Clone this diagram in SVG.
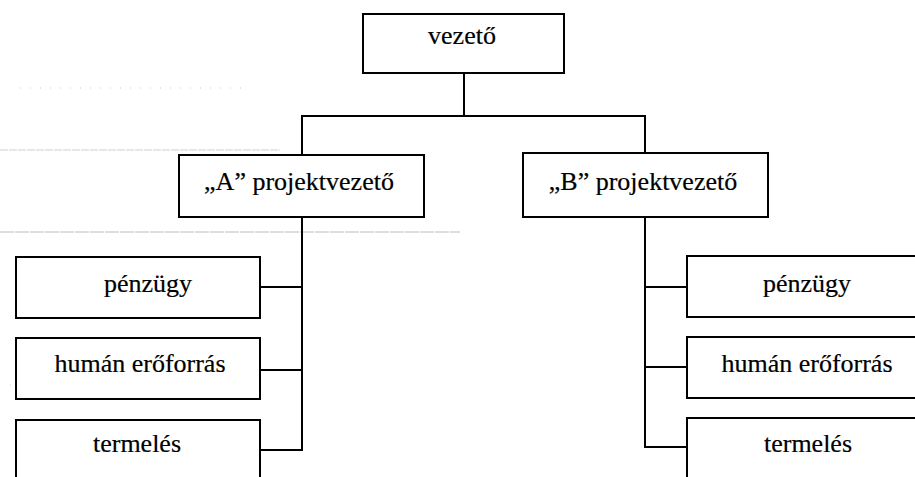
<svg xmlns="http://www.w3.org/2000/svg" width="915" height="477" viewBox="0 0 915 477">
  <style>
    .box { fill: #ffffff; stroke: #000000; stroke-width: 2; }
    .lbl { font-family: 'Liberation Serif', 'Times New Roman', serif; font-size: 26px; fill: #000000; stroke: #000000; stroke-width: 0.2; text-anchor: middle; }
    .wire { fill: none; stroke: #000000; stroke-width: 2; }
    .faint { fill: none; stroke: #a0a0a0; stroke-width: 1; }
  </style>
  <rect width="915" height="477" fill="#ffffff"/>

  <!-- faint ruled guide lines on the page -->
  <g id="page-lines">
    <line class="faint" x1="20" y1="88" x2="250" y2="88" stroke-dasharray="1 9" opacity="0.6"/>
    <line class="faint" x1="0" y1="150" x2="280" y2="150" stroke-dasharray="8 1" opacity="0.5"/>
    <line class="faint" x1="0" y1="232" x2="460" y2="232" stroke-dasharray="14 1" opacity="0.7"/>
    <line class="faint" x1="50" y1="287" x2="250" y2="287" stroke-dasharray="1 5" opacity="0.6"/>
    <line class="faint" x1="10" y1="385" x2="230" y2="385" stroke-dasharray="1 10" opacity="0.5"/>
  </g>

  <!-- connectors -->
  <g id="connectors">
    <polyline class="wire" points="464,73 464,116"/>
    <polyline class="wire" points="302,155 302,116 645,116 645,153"/>
    <!-- A branch -->
    <polyline class="wire" points="302,217 302,451"/>
    <line class="wire" x1="260" y1="287" x2="302" y2="287"/>
    <line class="wire" x1="260" y1="370" x2="302" y2="370"/>
    <line class="wire" x1="260" y1="450" x2="302" y2="450"/>
    <!-- B branch -->
    <polyline class="wire" points="645,217 645,448"/>
    <line class="wire" x1="645" y1="287" x2="687" y2="287"/>
    <line class="wire" x1="645" y1="367" x2="687" y2="367"/>
    <line class="wire" x1="645" y1="447" x2="687" y2="447"/>
  </g>

  <g id="vezeto">
    <rect class="box" x="363" y="14" width="201" height="59"/>
    <text class="lbl" x="462" y="44">vezető</text>
  </g>

  <g id="a-projektvezeto">
    <rect class="box" x="179" y="155" width="245" height="62"/>
    <text class="lbl" x="299" y="190">„A” projektvezető</text>
  </g>

  <g id="b-projektvezeto">
    <rect class="box" x="523" y="153" width="245" height="64"/>
    <text class="lbl" x="643" y="190">„B” projektvezető</text>
  </g>

  <g id="a-penzugy">
    <rect class="box" x="16" y="257" width="244" height="61"/>
    <text class="lbl" x="148" y="292">pénzügy</text>
  </g>
  <g id="a-human">
    <rect class="box" x="16" y="338" width="244" height="61"/>
    <text class="lbl" x="140" y="372">humán erőforrás</text>
  </g>
  <g id="a-termeles">
    <rect class="box" x="16" y="420" width="244" height="70"/>
    <text class="lbl" x="137" y="452">termelés</text>
  </g>

  <g id="b-penzugy">
    <rect class="box" x="687" y="256" width="244" height="61"/>
    <text class="lbl" x="807" y="292">pénzügy</text>
  </g>
  <g id="b-human">
    <rect class="box" x="687" y="337" width="244" height="61"/>
    <text class="lbl" x="807" y="372">humán erőforrás</text>
  </g>
  <g id="b-termeles">
    <rect class="box" x="687" y="418" width="244" height="70"/>
    <text class="lbl" x="808" y="452">termelés</text>
  </g>
</svg>
